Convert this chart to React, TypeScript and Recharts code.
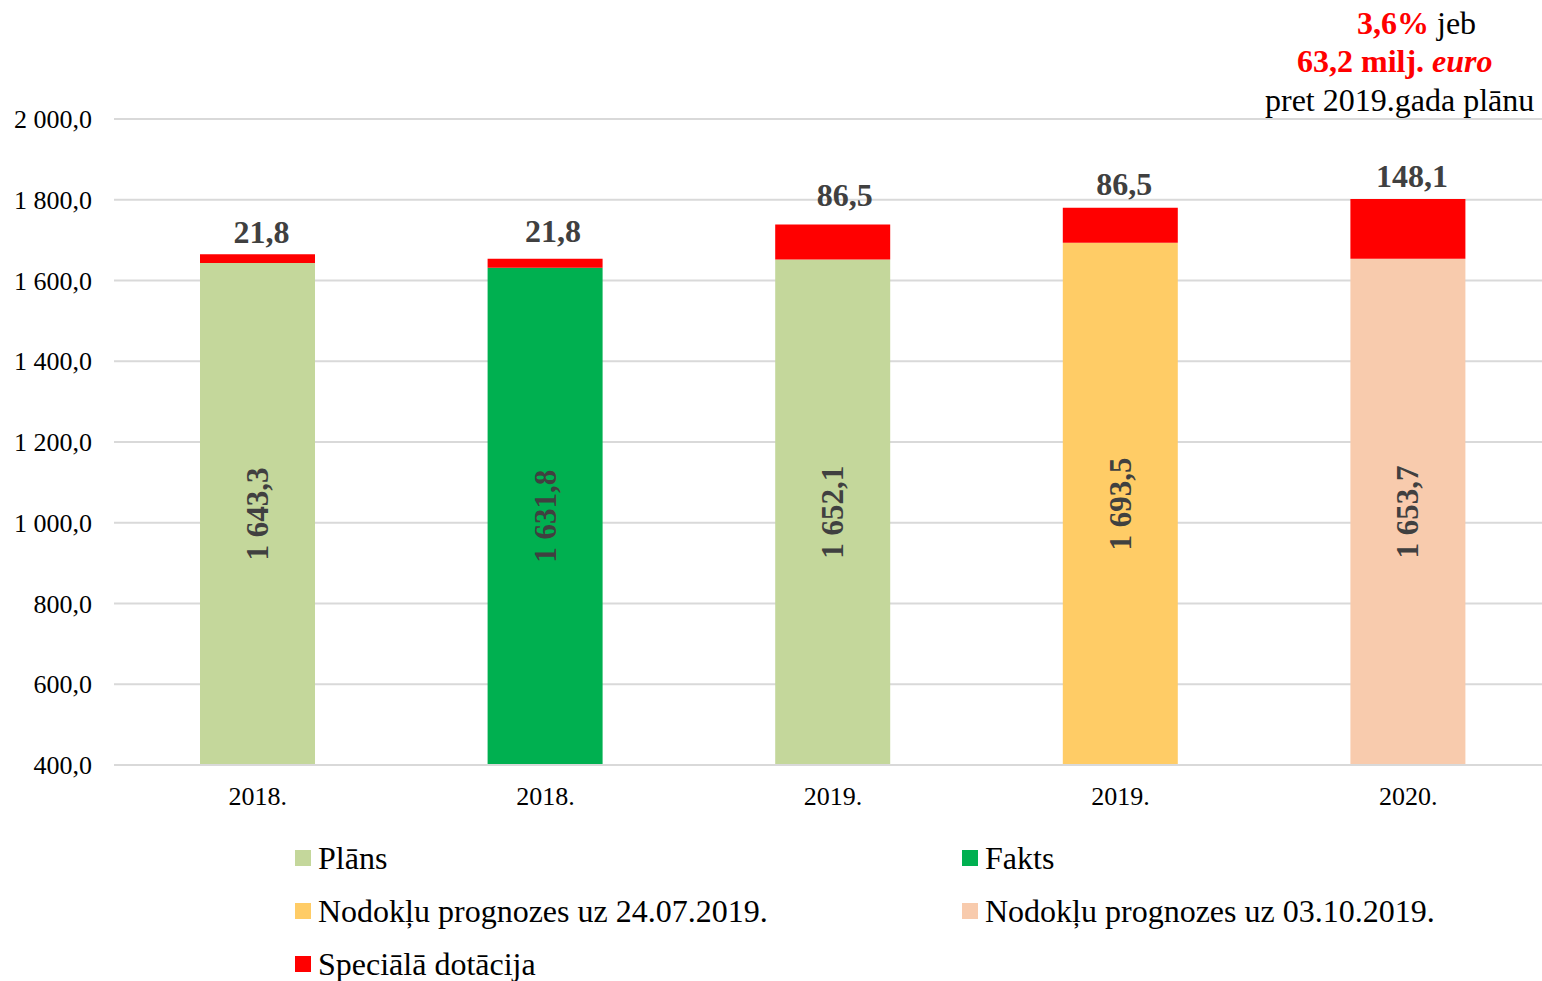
import React from 'react';
import { BarChart, Bar, XAxis, YAxis, CartesianGrid, Cell, LabelList } from 'recharts';

const categories = ['2018.', '2018.', '2019.', '2019.', '2020.'];
const baseValues = [1643.3, 1631.8, 1652.1, 1693.5, 1653.7];
const specialValues = [21.8, 21.8, 86.5, 86.5, 148.1];
const baseColors = ['#C4D79B', '#00B050', '#C4D79B', '#FFCC66', '#F8CBAD'];
const specialColor = '#FF0000';
const yTicks = [400, 600, 800, 1000, 1200, 1400, 1600, 1800, 2000];
const axisMin = 400;
const axisMax = 2000;

// small manual nudges of the top value labels (style only)
const topLabelDx = [4, 8, 12, 4, 4];
const topLabelDy = [0, 6, 8, 2, 1];

const legendItems = [
  { label: 'Plāns', color: '#C4D79B' },
  { label: 'Fakts', color: '#00B050' },
  { label: 'Nodokļu prognozes uz 24.07.2019.', color: '#FFCC66' },
  { label: 'Nodokļu prognozes uz 03.10.2019.', color: '#F8CBAD' },
  { label: 'Speciālā dotācija', color: '#FF0000' },
];

const data = categories.map((c, i) => ({
  cat: c,
  base: [axisMin, baseValues[i]],
  special: [baseValues[i], baseValues[i] + specialValues[i]],
}));

const FONT = '"Liberation Serif", "Times New Roman", serif';

function fmt(v: number): string {
  const s = v.toFixed(1);
  const [intPart, dec] = s.split('.');
  const withSpaces = intPart.replace(/\B(?=(\d{3})+(?!\d))/g, '\u00a0');
  return `${withSpaces},${dec}`;
}

const InsideLabel = (props: any) => {
  const { x, y, width, height, index } = props;
  const cx = x + width / 2;
  const cy = y + height / 2;
  return (
    <text
      x={cx}
      y={cy}
      transform={`rotate(-90 ${cx} ${cy})`}
      textAnchor="middle"
      dominantBaseline="central"
      fontFamily={FONT}
      fontWeight="bold"
      fontSize={31}
      fill="#404040"
    >
      {fmt(baseValues[index])}
    </text>
  );
};

const TopLabel = (props: any) => {
  const { x, y, width, index } = props;
  return (
    <text
      x={x + width / 2 + topLabelDx[index]}
      y={y - 11 - topLabelDy[index]}
      textAnchor="middle"
      fontFamily={FONT}
      fontWeight="bold"
      fontSize={32}
      fill="#404040"
    >
      {fmt(specialValues[index])}
    </text>
  );
};

export default function App() {
  return (
    <div
      style={{
        position: 'absolute',
        left: 0,
        top: 0,
        width: 1542,
        height: 981,
        overflow: 'hidden',
        background: '#fff',
        fontFamily: FONT,
      }}
    >
      <BarChart
        width={1552}
        height={981}
        data={data}
        margin={{ top: 119, right: 0, bottom: 0, left: 0 }}
        barSize={115}
      >
        <CartesianGrid
          xAxisId="main"
          vertical={false}
          stroke="#D9D9D9"
          strokeWidth={2}
        />
        <XAxis
          xAxisId="main"
          dataKey="cat"
          height={216}
          tickSize={0}
          tickMargin={22}
          tickLine={false}
          axisLine={{ stroke: '#D9D9D9', strokeWidth: 2 }}
          tick={{ fontFamily: FONT, fontSize: 26, fill: '#000' }}
          interval={0}
        />
        <XAxis xAxisId="top" dataKey="cat" hide />
        <YAxis
          width={114}
          domain={[axisMin, axisMax]}
          ticks={yTicks}
          allowDataOverflow
          tickSize={0}
          tickMargin={22}
          tickLine={false}
          axisLine={false}
          tickFormatter={(v: number) => fmt(v)}
          tick={{ fontFamily: FONT, fontSize: 26, fill: '#000' }}
        />
        <Bar xAxisId="main" dataKey="base" isAnimationActive={false}>
          {data.map((_, i) => (
            <Cell key={i} fill={baseColors[i]} />
          ))}
          <LabelList dataKey="base" content={InsideLabel} />
        </Bar>
        <Bar xAxisId="top" dataKey="special" fill={specialColor} isAnimationActive={false}>
          <LabelList dataKey="special" content={TopLabel} />
        </Bar>
      </BarChart>

      <div style={{ position: 'absolute', left: 1357, top: 4, fontSize: 32, whiteSpace: 'nowrap', lineHeight: '38px' }}>
        <span style={{ color: '#FF0000', fontWeight: 'bold' }}>3,6%</span> jeb
      </div>
      <div style={{ position: 'absolute', left: 1297, top: 42, fontSize: 32, whiteSpace: 'nowrap', lineHeight: '38px', color: '#FF0000', fontWeight: 'bold' }}>
        63,2 milj. <i>euro</i>
      </div>
      <div style={{ position: 'absolute', left: 1265, top: 81, fontSize: 32, whiteSpace: 'nowrap', lineHeight: '38px' }}>
        pret 2019.gada plānu
      </div>

      {legendItems.map((it, i) => {
        const col = i % 2;
        const row = Math.floor(i / 2);
        return (
          <div
            key={it.label}
            style={{
              position: 'absolute',
              left: col === 0 ? 295 : 962,
              top: 838 + row * 53,
              display: 'flex',
              alignItems: 'center',
              fontSize: 32,
              lineHeight: '40px',
              whiteSpace: 'nowrap',
              color: '#000',
            }}
          >
            <span style={{ display: 'inline-block', width: 16, height: 16, background: it.color, marginRight: 7 }} />
            {it.label}
          </div>
        );
      })}
    </div>
  );
}
